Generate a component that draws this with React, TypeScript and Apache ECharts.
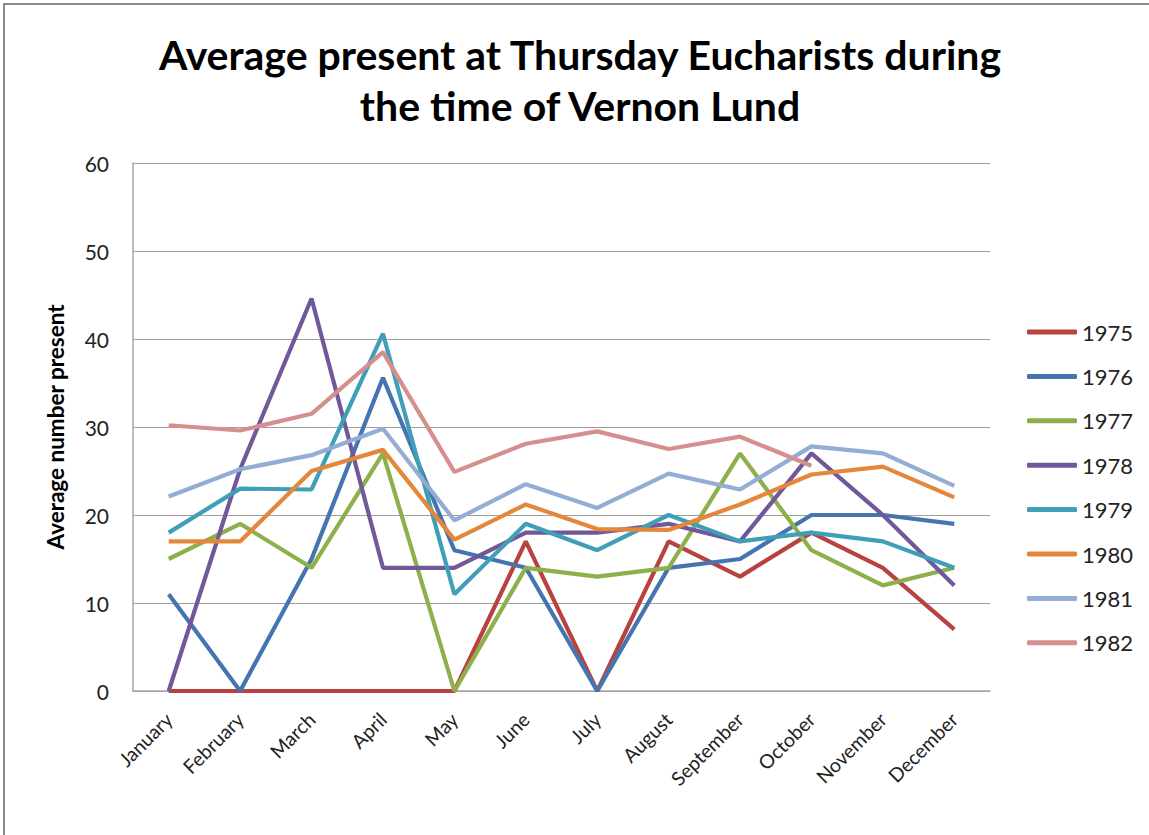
import React, { useEffect, useRef } from "react";
import * as echarts from "echarts";

const months = ["January", "February", "March", "April", "May", "June", "July", "August", "September", "October", "November", "December"];
const years = ["1975", "1976", "1977", "1978", "1979", "1980", "1981", "1982"];

const y1975 = [0, 0, 0, 0, 0, 17, 0, 17, 13, 18, 14, 7];
const y1976 = [11, 0, 15, 35.6, 16, 14, 0, 14, 15, 20, 20, 19];
const y1977 = [15, 19, 14, 27, 0, 14, 13, 14, 27, 16, 12, 14];
const y1978 = [0, 25.2, 44.6, 14, 14, 18, 18, 19, 17, 27, 20, 12];
const y1979 = [18, 23, 22.9, 40.6, 11, 19, 16, 20, 17, 18, 17, 14];
const y1980 = [17, 17, 25, 27.4, 17.2, 21.2, 18.4, 18.3, 21.2, 24.6, 25.5, 22];
const y1981 = [22.1, 25.2, 26.8, 29.8, 19.4, 23.5, 20.8, 24.7, 22.9, 27.8, 27, 23.3];
const y1982 = [30.2, 29.6, 31.5, 38.5, 24.9, 28.1, 29.5, 27.5, 28.9, 25.6, null, null];

const seriesData = [y1975, y1976, y1977, y1978, y1979, y1980, y1981, y1982];
const colors = ["#B8423F", "#4575B0", "#8DB04C", "#71589A", "#3F9EB8", "#E4873A", "#93ADD4", "#D5908E"];

const FONT = "Lato";

export default function App() {
  const ref = useRef<HTMLDivElement>(null);
  useEffect(() => {
    document.body.style.margin = "0";
    const chart = echarts.init(ref.current!, null, { renderer: "svg" });
    chart.setOption({
      animation: false,
      backgroundColor: "#ffffff",
      color: colors,
      textStyle: { fontFamily: FONT },
      title: {
        text: "Average present at Thursday Eucharists during\nthe time of Vernon Lund",
        left: 580,
        top: 29,
        padding: 0,
        textAlign: "center",
        textStyle: { fontFamily: FONT, fontSize: 41, fontWeight: "bold", color: "#000", lineHeight: 51 },
      },
      graphic: [
        {
          type: "rect",
          shape: { x: 4, y: 4, width: 1200, height: 900 },
          style: { fill: "none", stroke: "#8a8a8a", lineWidth: 2 },
          silent: true,
        },
      ],
      legend: {
        orient: "vertical",
        left: 1027,
        top: 320,
        padding: 0,
        icon: "roundRect",
        itemWidth: 50,
        itemHeight: 5,
        itemGap: 20.4,
        data: years,
        textStyle: { fontFamily: FONT, fontSize: 22, color: "#222", lineHeight: 24 },
      },
      grid: { left: 133, top: 163, width: 857, height: 528, containLabel: false },
      xAxis: {
        type: "category",
        data: months,
        boundaryGap: true,
        axisLine: { lineStyle: { color: "#A6A6A6", width: 1.5 } },
        axisTick: { show: false },
        axisLabel: { rotate: 45, margin: 25, fontFamily: FONT, fontSize: 19.5, color: "#222", interval: 0 },
        splitLine: { show: false },
      },
      yAxis: {
        type: "value",
        min: 0,
        max: 60,
        interval: 10,
        name: "Average number present",
        nameLocation: "middle",
        nameGap: 66,
        nameTextStyle: { fontFamily: FONT, fontSize: 22.5, fontWeight: "bold", color: "#000" },
        axisLine: { show: true, lineStyle: { color: "#A6A6A6", width: 1.5 } },
        axisTick: { show: false },
        axisLabel: { margin: 24, fontFamily: FONT, fontSize: 21, color: "#222" },
        splitLine: { lineStyle: { color: "#A0A0A0", width: 1 } },
      },
      series: years.map((y, i) => ({
        name: y,
        type: "line",
        data: seriesData[i],
        showSymbol: false,
        symbol: "none",
        connectNulls: false,
        lineStyle: { width: 4.2, color: colors[i] },
        itemStyle: { color: colors[i] },
        z: 2 + i,
      })),
    });
    return () => chart.dispose();
  }, []);
  return <div ref={ref} style={{ width: 1149, height: 835 }} />;
}
